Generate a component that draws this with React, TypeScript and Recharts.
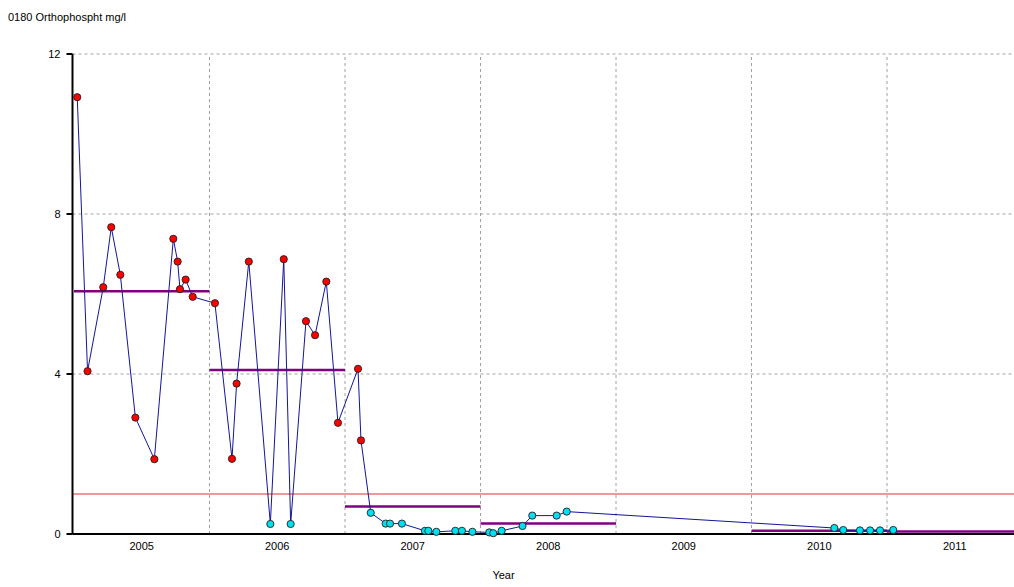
import React from 'react';
import {
  ComposedChart,
  Line,
  XAxis,
  YAxis,
  CartesianGrid,
  ReferenceLine,
} from 'recharts';

// Sample dates (decimal years) and orthophosphate values (mg/l)
const sampleDates = [
  2005.024, 2005.1, 2005.216, 2005.275, 2005.342, 2005.453, 2005.593, 2005.733, 2005.765, 2005.782, 2005.824, 2005.876,
  2006.04, 2006.166, 2006.2, 2006.29, 2006.449, 2006.548, 2006.599, 2006.712, 2006.779, 2006.862, 2006.948,
  2007.096, 2007.118, 2007.19, 2007.3, 2007.332, 2007.42, 2007.59, 2007.615, 2007.674, 2007.814, 2007.863, 2007.94,
  2008.065, 2008.094, 2008.156, 2008.31, 2008.382, 2008.562, 2008.636,
  2010.611, 2010.677, 2010.8, 2010.875, 2010.948, 2011.046,
];
const sampleValues = [
  10.92, 4.07, 6.17, 7.67, 6.48, 2.91, 1.87, 7.38, 6.81, 6.12, 6.36, 5.93,
  5.77, 1.88, 3.76, 6.81, 0.25, 6.87, 0.25, 5.32, 4.97, 6.31, 2.78,
  4.13, 2.34, 0.53, 0.26, 0.26, 0.26, 0.08, 0.08, 0.055, 0.08, 0.08, 0.055,
  0.04, 0.02, 0.08, 0.2, 0.46, 0.46, 0.56,
  0.15, 0.1, 0.09, 0.09, 0.09, 0.1,
];

// Annual means
const meanYears = [2005, 2006, 2007, 2008, 2009, 2010, 2011];
const meanValues: (number | null)[] = [6.07, 4.1, 0.69, 0.26, null, 0.08, 0.06];

const threshold = 1;
const yTicks = [0, 4, 8, 12];
const yearTicks = [2005, 2006, 2007, 2008, 2009, 2010, 2011];
const yearLabelTicks = [2005.5, 2006.5, 2007.5, 2008.5, 2009.5, 2010.5, 2011.5];
const xDomain: [number, number] = [2004.989, 2011.937];

const data = sampleDates.map((x, i) => ({ x, v: sampleValues[i] }));

const FONT = '"Liberation Sans", Arial, sans-serif';

const Dot = (props: any) => {
  const { cx, cy, payload, index } = props;
  if (cx == null || cy == null) return <g key={index} />;
  const fill = payload.v > threshold ? '#ff0000' : '#00e0f0';
  return <circle key={index} cx={cx} cy={cy} r={3.6} fill={fill} stroke="#202020" strokeWidth={0.9} />;
};

export default function App() {
  return (
    <div style={{ position: 'absolute', left: 0, top: 0, width: 1014, height: 587, background: '#fff', fontFamily: FONT }}>
      <div style={{ position: 'absolute', left: 8, top: 11, fontSize: 11, color: '#000', whiteSpace: 'nowrap' }}>
        0180 Orthophospht mg/l
      </div>
      <div style={{ position: 'absolute', left: 0, width: 1007, top: 569, textAlign: 'center', fontSize: 11, color: '#000' }}>
        Year
      </div>
      <ComposedChart
        width={1014}
        height={587}
        data={data}
        margin={{ top: 54, right: 0, bottom: 23, left: 12.5 }}
        style={{ position: 'absolute', left: 0, top: 0 }}
      >
        <CartesianGrid
          xAxisId="grid"
          vertical={false}
          stroke="#a0a0a0"
          strokeDasharray="3 3"
        />
        <XAxis
          xAxisId="grid"
          dataKey="x"
          type="number"
          domain={xDomain}
          ticks={yearTicks}
          allowDataOverflow
          tick={false}
          tickSize={4}
          height={1}
          axisLine={{ stroke: '#000', strokeWidth: 2 }}
          tickLine={{ stroke: '#000', strokeWidth: 2 }}
        />
        <XAxis
          xAxisId="lab"
          dataKey="x"
          type="number"
          domain={xDomain}
          ticks={yearLabelTicks}
          allowDataOverflow
          axisLine={false}
          tickLine={false}
          tickSize={4}
          tickMargin={3}
          height={29}
          tickFormatter={(t: number) => String(Math.floor(t))}
          tick={{ fill: '#000', fontSize: 11, fontFamily: FONT }}
        />
        <YAxis
          type="number"
          domain={[0, 12]}
          ticks={yTicks}
          width={60}
          axisLine={{ stroke: '#000', strokeWidth: 2 }}
          tickLine={{ stroke: '#000', strokeWidth: 2 }}
          tickSize={6}
          tickMargin={6}
          tick={{ fill: '#000', fontSize: 11, fontFamily: FONT }}
        />
        {yearTicks.slice(1).map((yr) => (
          <ReferenceLine
            key={'g' + yr}
            xAxisId="grid"
            x={yr}
            stroke="#a0a0a0"
            strokeDasharray="3 3"
            strokeWidth={1}
          />
        ))}
        <ReferenceLine xAxisId="grid" y={threshold} stroke="#e03030" strokeWidth={1} />
        {meanYears.map((yr, i) =>
          meanValues[i] == null ? null : (
            <ReferenceLine
              key={yr}
              xAxisId="grid"
              ifOverflow="visible"
              segment={[
                { x: Math.max(yr, xDomain[0]), y: meanValues[i] as number },
                { x: Math.min(yr + 1, xDomain[1]), y: meanValues[i] as number },
              ]}
              stroke="#800080"
              strokeWidth={2.5}
            />
          )
        )}
        <Line
          xAxisId="grid"
          dataKey="v"
          type="linear"
          stroke="#14149a"
          strokeWidth={1}
          dot={Dot}
          activeDot={false}
          isAnimationActive={false}
        />
      </ComposedChart>
    </div>
  );
}
